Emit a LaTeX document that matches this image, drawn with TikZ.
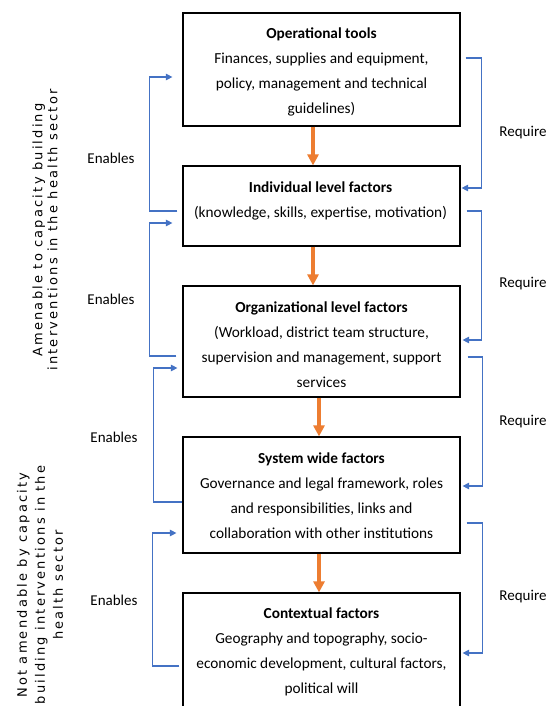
\documentclass[tikz,border=0pt]{standalone}
\usepackage{fontspec}
\setmainfont{Carlito}
\newfontfamily\rotfont[LetterSpace=17]{DejaVu Sans}
\usetikzlibrary{arrows.meta}
\definecolor{orng}{HTML}{ED7D31}
\definecolor{blu}{HTML}{4472C4}
\begin{document}
\begin{tikzpicture}[x=1pt,y=-1pt,
 box/.style={draw=black, line width=1.2pt, minimum width=277pt, inner sep=0pt},
 txt/.style={align=center, inner sep=0pt, font=\fontsize{15.3}{25}\selectfont},
 lbl/.style={inner sep=0pt, font=\fontsize{15}{18}\selectfont},
 flow/.style={draw=orng, line width=3.5pt, -{Triangle[width=11pt,length=11pt]}},
 link/.style={draw=blu, line width=1.2pt, -{Triangle[width=6.5pt,length=6.5pt]}},
 side/.style={rotate=90, align=center, inner sep=0pt, font=\rotfont\fontsize{13}{15}\selectfont}]
\useasboundingbox (0,0) rectangle (552,706);
\clip (0,0) rectangle (552,706);
\fill[white] (0,0) rectangle (552,706);
% boxes
\node[box, minimum height=113pt] (b1) at (321.5,69.5) {};
\node[box, minimum height=80pt] (b2) at (321.5,206) {};
\node[box, minimum height=111pt] (b3) at (321.5,341.5) {};
\node[box, minimum height=116pt] (b4) at (321.5,495) {};
\node[box, minimum height=119pt] (b5) at (321.5,652.5) {};
% texts
\node[txt] (t1) at (321.5,72) {\textbf{Operational tools}\\Finances, supplies and equipment,\\policy, management and technical\\guidelines)};
\node[txt] (t2) at (320.5,201) {\textbf{Individual level factors}\\(knowledge, skills, expertise, motivation)};
\node[txt] (t3) at (321.5,344.5) {\textbf{Organizational level factors}\\(Workload, district team structure,\\supervision and management, support\\services};
\node[txt] (t4) at (321.5,496) {\textbf{System wide factors}\\Governance and legal framework, roles\\and responsibilities, links and\\collaboration with other institutions};
\node[txt] (t5) at (321.5,652) {\textbf{Contextual factors}\\Geography and topography, socio-\\economic development, cultural factors,\\political will};
% orange flow
\draw[flow] ([xshift=-8.5pt]b1.south) -- ([xshift=-8.5pt]b2.north);
\draw[flow] ([xshift=-8.5pt]b2.south) -- ([xshift=-8.5pt]b3.north);
\draw[flow] ([xshift=-2.5pt]b3.south) -- ([xshift=-2.5pt]b4.north);
\draw[flow] ([xshift=-2.5pt]b4.south) -- ([xshift=-2.5pt]b5.north);
% enables (left)
\draw[link] ([xshift=-5pt,yshift=-5pt]b2.west) -- ++(-28,0) |- ([xshift=-10pt,yshift=-7.5pt]b1.west);
\draw[link] ([xshift=-6pt,yshift=-14.5pt]b3.west) -- ++(-27,0) |- ([xshift=-10pt,yshift=-17pt]b2.west);
\draw[link] ([yshift=-7pt]b4.west) -- ++(-29,0) |- ([xshift=-5pt,yshift=-26.5pt]b3.west);
\draw[link] ([xshift=-3pt,yshift=-13.5pt]b5.west) -- ++(-27,0) |- ([xshift=-6pt,yshift=-38pt]b4.west);
% require (right)
\draw[link] ([xshift=5pt,yshift=11.5pt]b1.east) -- ++(16,0) |- ([xshift=1pt,yshift=18pt]b2.east);
\draw[link] ([xshift=6pt,yshift=-5pt]b2.east) -- ++(15,0) |- ([xshift=2pt,yshift=1.5pt]b3.east);
\draw[link] ([xshift=7pt,yshift=-15.5pt]b3.east) -- ++(15,0) |- ([xshift=2pt,yshift=9pt]b4.east);
\draw[link] ([xshift=6pt,yshift=-28pt]b4.east) -- ++(16,0) |- ([xshift=2pt,yshift=-0.5pt]b5.east);
% labels
\node[lbl] (e1) at (111,158) {Enables};
\node[lbl] (e2) at (111,299) {Enables};
\node[lbl] (e3) at (114,437) {Enables};
\node[lbl] (e4) at (114,600) {Enables};
\node[lbl] (r1) at (523,133) {Require};
\node[lbl] (r2) at (523,284) {Require};
\node[lbl] (r3) at (523,422) {Require};
\node[lbl] (r4) at (523,597) {Require};
% side notes
\node[side] (s1) at (45,230) {Amenable to capacity building\\interventions in the health sector};
\node[side, font=\rotfont\fontsize{13}{18}\selectfont] (s2) at (40,585) {Not amendable by capacity\\building interventions in the\\health sector};
\end{tikzpicture}
\end{document}
